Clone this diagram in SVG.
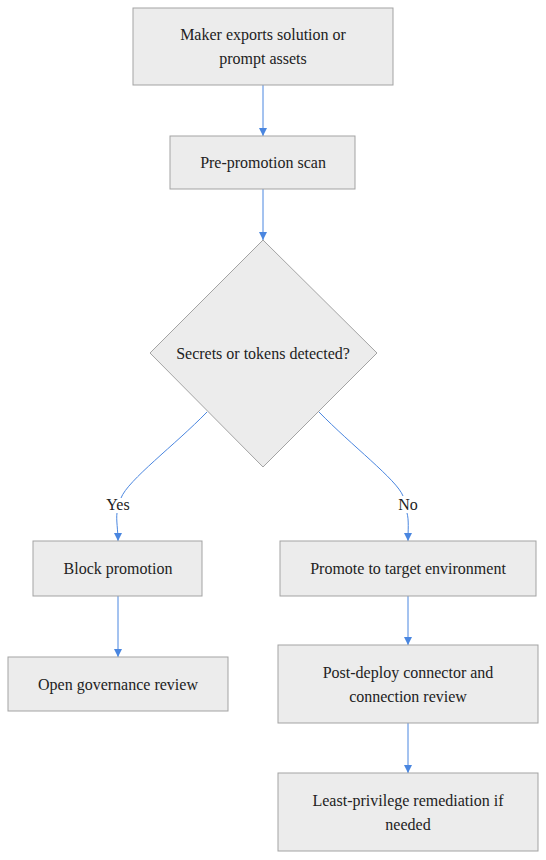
<svg xmlns="http://www.w3.org/2000/svg" width="546" height="860" viewBox="0 0 546 860">
<style>
.n{fill:#ececec;stroke:#a3a3a3;stroke-width:1}
.t{font-family:"Liberation Serif","Times New Roman",serif;font-size:16px;fill:#222;text-anchor:middle;dominant-baseline:central}
.e{fill:none;stroke:#4a86e0;stroke-width:1}
</style>
<defs>
<marker id="ah" viewBox="0 0 10 10" refX="10" refY="5" markerWidth="8" markerHeight="8" markerUnits="userSpaceOnUse" orient="auto">
<path d="M0,0 L10,5 L0,10 z" fill="#4a86e0"/>
</marker>
</defs>
<rect width="546" height="860" fill="#fff"/>
<g id="edges">
<path class="e" d="M263,85 L263,136" marker-end="url(#ah)"/>
<path class="e" d="M263,189 L263,240" marker-end="url(#ah)"/>
<path class="e" d="M207,412 C175,445 128,480 121,498 M117,513 C116,520 118,530 118,541" marker-end="url(#ah)"/>
<path class="e" d="M319,412 C351,445 397,480 403,496 M407,513 C409,520 408,530 408,541" marker-end="url(#ah)"/>
<path class="e" d="M118,596 L118,657" marker-end="url(#ah)"/>
<path class="e" d="M408,596 L408,645" marker-end="url(#ah)"/>
<path class="e" d="M408,723 L408,773" marker-end="url(#ah)"/>
<text class="t" x="118" y="504">Yes</text>
<text class="t" x="408" y="504">No</text>
</g>
<g id="n1"><rect class="n" x="133" y="8" width="260" height="77"/><text class="t" x="263" y="34">Maker exports solution or</text><text class="t" x="263" y="58">prompt assets</text></g>
<g id="n2"><rect class="n" x="170" y="136" width="185" height="53"/><text class="t" x="263" y="162">Pre-promotion scan</text></g>
<g id="n3"><path class="n" d="M263,240 L377,353 L263,467 L150,353 Z"/><text class="t" x="263" y="353">Secrets or tokens detected?</text></g>
<g id="n4"><rect class="n" x="33" y="541" width="169" height="55"/><text class="t" x="118" y="568">Block promotion</text></g>
<g id="n5"><rect class="n" x="8" y="657" width="220" height="54"/><text class="t" x="118" y="684">Open governance review</text></g>
<g id="n6"><rect class="n" x="280" y="541" width="256" height="55"/><text class="t" x="408" y="568">Promote to target environment</text></g>
<g id="n7"><rect class="n" x="278" y="645" width="260" height="78"/><text class="t" x="408" y="672">Post-deploy connector and</text><text class="t" x="408" y="696">connection review</text></g>
<g id="n8"><rect class="n" x="278" y="773" width="260" height="78"/><text class="t" x="408" y="800">Least-privilege remediation if</text><text class="t" x="408" y="824">needed</text></g>
</svg>
